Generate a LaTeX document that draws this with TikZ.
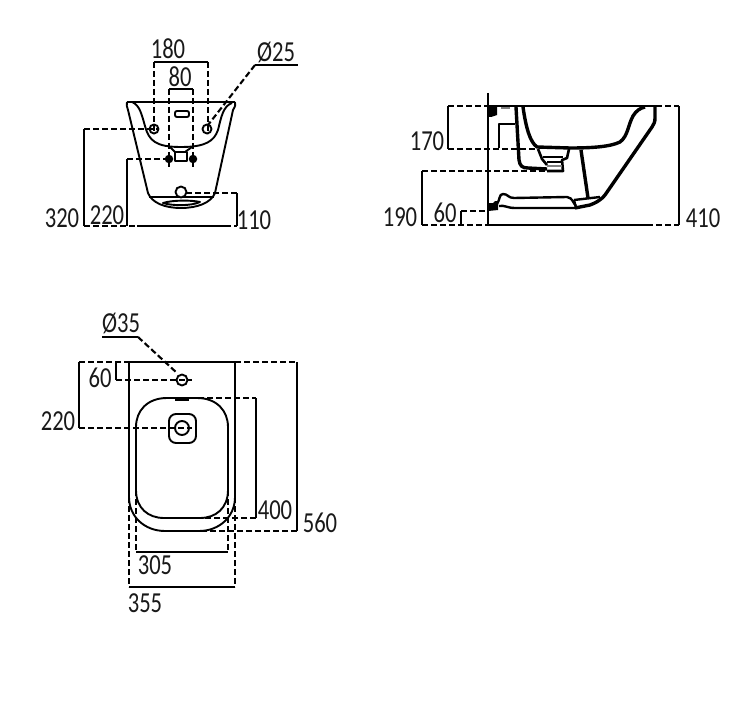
\documentclass[tikz,border=0pt]{standalone}
\usepackage{fontspec}
\setmainfont[FakeStretch=0.78]{Carlito}

\begin{document}
\begin{tikzpicture}[x=1pt, y=-1pt, every node/.style={scale=1}]
        \tikzstyle{label}=[fill=none, draw=none, inner sep=0pt, font=\fontsize{29}{29}\selectfont, text=black!90]
        \tikzstyle{dim}=[line width=2.1pt, black]
        \tikzstyle{dimdash}=[line width=2.1pt, black, dash pattern=on 6pt off 3pt]
        \tikzstyle{outline}=[line width=1.9pt, black, line join=round]
        \tikzstyle{thick outline}=[line width=3.4pt, black, line join=round]
        \tikzstyle{point}=[inner sep=0pt, minimum size=8.5pt, fill=black, draw=none, shape=circle]
        \useasboundingbox (0,0) rectangle (741,722);

        % front view
        \draw [style=outline] (127,102) -- (235,102);
        \draw [style=outline] (127,102) .. controls (126,104) and (127,107) .. (128,110) -- (148,193) .. controls (152,203) and (165,208) .. (181,208) .. controls (197,208) and (211,203) .. (215,193) -- (233,110) .. controls (235,107) and (236,104) .. (235,102);
        \draw [style=outline] (132,102) .. controls (140,105) and (142,116) .. (145,126) .. controls (149,141) and (156,147) .. (181,147) .. controls (206,147) and (214,141) .. (218,130) .. controls (221,118) and (223,106) .. (232,103);
        \draw [style=outline] (149,197) -- (214,197);
        \draw [style=outline] (163,203) .. controls (172,200) and (192,200) .. (200,202) .. controls (192,206) and (172,206) .. (163,203) -- cycle;
        \draw [style=outline, rounded corners=2pt] (175,111) rectangle (189,117);
        \draw [style=outline] (170,147) -- (175,152) -- (185,152) -- (192,147);
        \draw [style=outline] (175,152) rectangle (187,161);
        \node [style=point] (pa) at (169,159) {};
        \node [style=point] (pb) at (193,159) {};
        \draw [style=outline] (154,129) circle (4.5);
        \draw [style=outline] (207,129) circle (4.5);
        \draw [style=outline, fill=white] (181,192) circle (5.5);
        \draw [style=dimdash] (84,129) -- (158,129);
        \draw [style=dim] (84,129) -- (84,226);
        \draw [style=dim] (127,226) -- (127,159);
        \draw [style=dimdash] (127,159) -- (169,159);
        \draw [style=dimdash] (84,226) -- (137,226);
        \draw [style=dim] (137,226) -- (225,226);
        \draw [style=dimdash] (225,226) -- (237,226);
        \draw [style=dim] (237,226) -- (237,193);
        \draw [style=dimdash] (237,193) -- (186,193);
        \draw [style=dim] (154,62) -- (208,62);
        \draw [style=dimdash] (154,62) -- (154,134);
        \draw [style=dimdash] (208,62) -- (208,134);
        \draw [style=dim] (169,89) -- (193,89);
        \draw [style=dimdash] (169,89) -- (169,167);
        \draw [style=dimdash] (193,89) -- (193,167);
        \draw [style=dim] (255,65) -- (298,65);
        \draw [style=dimdash] (255,65) -- (208,125);
        \node [style=label] (t180) at (168,49) {180};
        \node [style=label] (t80) at (180,77) {80};
        \node [style=label] (t25) at (276,52) {Ø25};
        \node [style=label] (t320) at (62,218) {320};
        \node [style=label] (t220a) at (107,215) {220};
        \node [style=label] (t110) at (254,220) {110};

        % side view
        \draw [style=dim] (488,93) -- (488,226);
        \draw [style=dimdash] (448,106) -- (488,106);
        \draw [style=dim] (488,106) -- (656,106);
        \draw [style=dimdash] (656,106) -- (679,106);
        \draw [style=dim] (679,106) -- (679,225);
        \draw [style=dim] (488,225) -- (647,225);
        \draw [style=dimdash] (647,225) -- (679,225);
        \draw [style=dim] (448,106) -- (448,149);
        \draw [style=dimdash] (448,149) -- (537,149);
        \draw [style=dim] (422,171) -- (422,225);
        \draw [style=dimdash] (422,171) -- (547,171);
        \draw [style=dimdash] (422,225) -- (488,225);
        \draw [style=dim] (461,211) -- (461,225);
        \draw [style=dimdash] (461,211) -- (488,211);
        % basin and shell
        \draw [style=thick outline] (523,107) .. controls (526,128) and (530,142) .. (537,147) -- (570,148) .. controls (590,148) and (610,147) .. (620,142) .. controls (628,136) and (628,125) .. (633,116) .. controls (636,111) and (640,108) .. (645,107);
        \draw [style=thick outline] (655,107) -- (655,118) .. controls (655,122) and (654,124) .. (652,127) -- (605,195) .. controls (600,201) and (595,203) .. (590,205) -- (575,208);
        \draw [style=thick outline] (581,150) -- (588,198);
        \draw [style=outline, line width=2.4pt] (574,200) -- (600,197);
        \draw [style=outline, line width=2.4pt] (574,200) -- (576,208);
        \draw [style=thick outline] (516,107) -- (519,160) .. controls (520,166) and (522,168) .. (528,168) -- (547,169);
        \draw [style=outline] (499,148) -- (499,124) -- (515,124);
        % drain
        \draw [style=thick outline, line width=2.6pt] (538,149) -- (542,159) -- (547,165);
        \draw [style=thick outline, line width=2.6pt] (569,149) -- (567,158) -- (562,160) -- (563,171) -- (547,171);
        \draw [style=outline] (543,157) -- (563,157);
        \draw [style=outline] (547,162) -- (562,162);
        \draw [style=outline, black!50, line width=2.5pt] (547,166) -- (562,166);
        % fixings
        \fill [black] (488,203) -- (493,203) -- (495,201) -- (498,201) -- (498,210) -- (488,211) -- cycle;
        \fill [black] (488,107) -- (497,107) -- (497,115) -- (491,117) -- (488,117) -- cycle;
        \draw [style=outline, black!50, line width=1.5pt] (501,108) -- (510,108);
        % base
        \draw [style=outline, line width=2.4pt] (497,204) .. controls (500,200) and (499,194) .. (503,194) .. controls (508,194) and (508,198) .. (514,198) -- (567,197) .. controls (573,198) and (573,203) .. (576,206);
        \draw [style=outline, line width=2.4pt] (499,206) .. controls (505,205) and (507,208) .. (515,208) -- (575,208);
        \node [style=label] (t170) at (427,141) {170};
        \node [style=label] (t190) at (400,217) {190};
        \node [style=label] (t60a) at (445,213) {60};
        \node [style=label] (t410) at (703,218) {410};

        % plan view
        \draw [style=dim] (129,362) -- (235,362);
        \draw [style=dim] (129,362) -- (129,497);
        \draw [style=dim] (235,362) -- (235,497);
        \draw [style=outline] (129,497) .. controls (129,517) and (145,531) .. (165,531) -- (199,531) .. controls (219,531) and (235,517) .. (235,497);
        \draw [style=outline] (136,427) .. controls (136,411) and (147,398) .. (167,398) -- (197,398) .. controls (217,398) and (228,411) .. (228,427) -- (228,490) .. controls (228,508) and (216,518) .. (200,518) -- (164,518) .. controls (148,518) and (136,508) .. (136,490) -- cycle;
        \draw [style=thick outline, line width=2.4pt] (175,400) -- (189,400);
        \draw [style=outline, rounded corners=7pt] (169,414) rectangle (196,443);
        \draw [style=outline] (182,428) circle (7);
        \draw [style=outline] (182,380) circle (5.5);
        \draw [style=dim] (102,337) -- (138,337);
        \draw [style=dimdash] (138,337) -- (177,373);
        \draw [style=dim] (79,362) -- (79,428);
        \draw [style=dimdash] (79,362) -- (129,362);
        \draw [style=dimdash] (79,428) -- (192,428);
        \draw [style=dim] (116,362) -- (116,380);
        \draw [style=dimdash] (116,380) -- (192,380);
        \draw [style=dimdash] (235,362) -- (297,362);
        \draw [style=dim] (297,362) -- (297,531);
        \draw [style=dimdash] (297,531) -- (180,531);
        \draw [style=dimdash] (180,398) -- (256,398);
        \draw [style=dim] (256,398) -- (256,518);
        \draw [style=dimdash] (256,518) -- (177,518);
        \draw [style=dim] (136,552) -- (228,552);
        \draw [style=dimdash] (136,490) -- (136,552);
        \draw [style=dimdash] (228,490) -- (228,552);
        \draw [style=dim] (129,587) -- (235,587);
        \draw [style=dimdash] (129,497) -- (129,587);
        \draw [style=dimdash] (235,497) -- (235,587);
        \node [style=label] (t35) at (121,323) {Ø35};
        \node [style=label] (t60b) at (100,378) {60};
        \node [style=label] (t220b) at (58,421) {220};
        \node [style=label] (t400) at (275,510) {400};
        \node [style=label] (t560) at (320,523) {560};
        \node [style=label] (t305) at (155,565) {305};
        \node [style=label] (t355) at (145,603) {355};
\end{tikzpicture}
\end{document}
